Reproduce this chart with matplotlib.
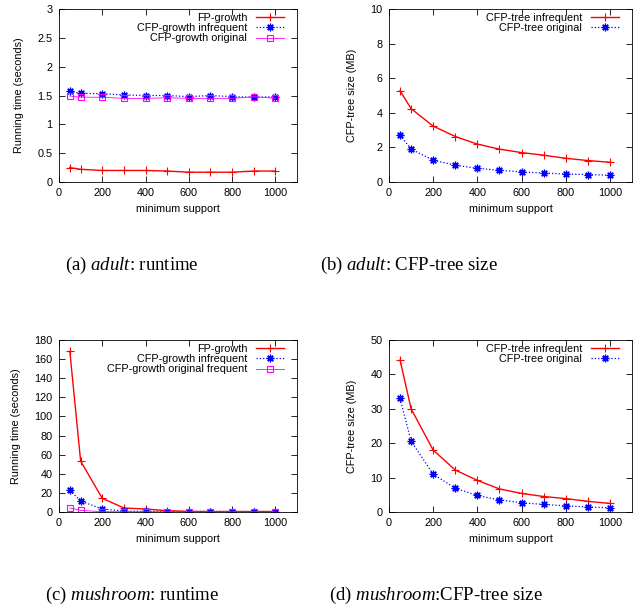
import matplotlib
matplotlib.use('Agg')
import matplotlib.pyplot as plt
from matplotlib.ticker import FormatStrFormatter

plt.rcParams['font.family'] = 'Liberation Sans'
plt.rcParams['mathtext.fontset'] = 'custom'
plt.rcParams['mathtext.rm'] = 'Liberation Serif'
plt.rcParams['mathtext.it'] = 'Liberation Serif:italic'

# minimum support values
support = [50, 100, 200, 300, 400, 500, 600, 700, 800, 900, 1000]

# (a) adult runtime (seconds)
adult_fp = [0.25, 0.22, 0.20, 0.20, 0.20, 0.19, 0.17, 0.17, 0.17, 0.19, 0.19]
adult_cfp_inf = [1.57, 1.54, 1.53, 1.51, 1.50, 1.50, 1.48, 1.50, 1.48, 1.47, 1.48]
adult_cfp_orig = [1.49, 1.47, 1.47, 1.45, 1.45, 1.46, 1.45, 1.45, 1.45, 1.48, 1.45]

# (b) adult CFP-tree size (MB)
adult_tree_inf = [5.28, 4.24, 3.23, 2.63, 2.19, 1.90, 1.70, 1.55, 1.37, 1.24, 1.14]
adult_tree_orig = [2.71, 1.90, 1.26, 0.97, 0.79, 0.68, 0.58, 0.52, 0.46, 0.43, 0.39]

# (c) mushroom runtime (seconds)
mush_fp = [168.2, 53.3, 14.3, 4.2, 3.1, 1.4, 0.6, 0.5, 0.5, 0.5, 0.5]
mush_cfp_inf = [22.6, 11.5, 3.1, 1.0, 0.6, 0.5, 0.5, 0.5, 0.5, 0.5, 0.5]
mush_cfp_orig = [4.2, 1.7, 0.3, 0.2, 0.2, 0.2, 0.2, 0.2, 0.2, 0.2, 0.2]

# (d) mushroom CFP-tree size (MB)
mush_tree_inf = [44.2, 30.0, 18.0, 12.2, 9.2, 6.7, 5.4, 4.5, 3.9, 3.1, 2.5]
mush_tree_orig = [33.0, 20.6, 11.0, 6.9, 4.8, 3.5, 2.7, 2.2, 1.8, 1.45, 1.2]

captions = [r'(a) $\mathit{adult}$: runtime',
            r'(b) $\mathit{adult}$: CFP-tree size',
            r'(c) $\mathit{mushroom}$: runtime',
            r'(d) $\mathit{mushroom}$:CFP-tree size']

RED = '#ff0000'
BLUE = '#0000ff'
MAG = '#ff00ff'
STAR = (8, 2, 0)
FS = 7.8

fig = plt.figure(figsize=(6.34, 6.08), dpi=100)
W, H = 634, 608


def make_ax(l, t, r, b):
    return fig.add_axes([l / W, 1 - b / H, (r - l) / W, (b - t) / H])


def style(ax, ymax, ystep, ylabel, fmt):
    ax.set_xlim(0, 1100)
    ax.set_ylim(0, ymax)
    ax.set_xticks(range(0, 1001, 200))
    ax.set_yticks([i * ystep for i in range(int(round(ymax / ystep)) + 1)])
    ax.yaxis.set_major_formatter(FormatStrFormatter(fmt))
    ax.tick_params(direction='in', length=4, width=0.6, top=True, right=True,
                   labelsize=FS, pad=4.5)
    for s in ax.spines.values():
        s.set_linewidth(0.6)
    ax.set_xlabel('minimum support', fontsize=FS, labelpad=4)
    ax.set_ylabel(ylabel, fontsize=FS, labelpad=10)


def legend(ax):
    w = ax.get_position().width * W
    h = ax.get_position().height * H
    ax.legend(loc='upper right', bbox_to_anchor=(1 - 13 / w, 1 - 4 / h),
              frameon=False, markerfirst=False, fontsize=FS,
              handlelength=2.6, labelspacing=0.02, borderaxespad=0,
              borderpad=0, handletextpad=0.8)


ax_a = make_ax(59, 9, 297, 182)
ax_a.plot(support, adult_fp, color=RED, lw=1.0, marker='+', ms=5.5, mew=0.8, label='FP-growth')
ax_a.plot(support, adult_cfp_inf, color=BLUE, lw=0.9, ls=':', marker=STAR, ms=5.5, mew=0.9,
          label='CFP-growth infrequent')
ax_a.plot(support, adult_cfp_orig, color=MAG, lw=0.6, marker='s', ms=4.5, mew=0.8,
          mfc='none', label='CFP-growth original')
style(ax_a, 3, 0.5, 'Running time (seconds)', '%g')
legend(ax_a)

ax_b = make_ax(389, 9, 632, 182)
ax_b.plot(support, adult_tree_inf, color=RED, lw=1.0, marker='+', ms=5.5, mew=0.8,
          label='CFP-tree infrequent')
ax_b.plot(support, adult_tree_orig, color=BLUE, lw=0.9, ls=':', marker=STAR, ms=5.5, mew=0.9,
          label='CFP-tree original')
style(ax_b, 10, 2, 'CFP-tree size (MB)', '%g')
legend(ax_b)

ax_c = make_ax(59, 340, 297, 512)
ax_c.plot(support, mush_fp, color=RED, lw=1.0, marker='+', ms=5.5, mew=0.8, label='FP-growth')
ax_c.plot(support, mush_cfp_inf, color=BLUE, lw=0.9, ls=':', marker=STAR, ms=5.5, mew=0.9,
          label='CFP-growth infrequent')
ax_c.plot(support, mush_cfp_orig, color=MAG, lw=0.6, marker='s', ms=4.5, mew=0.8,
          mfc='none', label='CFP-growth original frequent')
style(ax_c, 180, 20, 'Running time (seconds)', '%g')
legend(ax_c)

ax_d = make_ax(389, 340, 632, 512)
ax_d.plot(support, mush_tree_inf, color=RED, lw=1.0, marker='+', ms=5.5, mew=0.8,
          label='CFP-tree infrequent')
ax_d.plot(support, mush_tree_orig, color=BLUE, lw=0.9, ls=':', marker=STAR, ms=5.5, mew=0.9,
          label='CFP-tree original')
style(ax_d, 50, 10, 'CFP-tree size (MB)', '%g')
legend(ax_d)

# subfigure captions
cap_pos = [(132, 265), (409, 265), (132, 595), (436, 595)]
for (cx, cy), txt in zip(cap_pos, captions):
    fig.text(cx / W, 1 - cy / H, txt, ha='center', va='center', fontsize=13.5,
             family='Liberation Serif')

fig.savefig('out.png', dpi=100)
